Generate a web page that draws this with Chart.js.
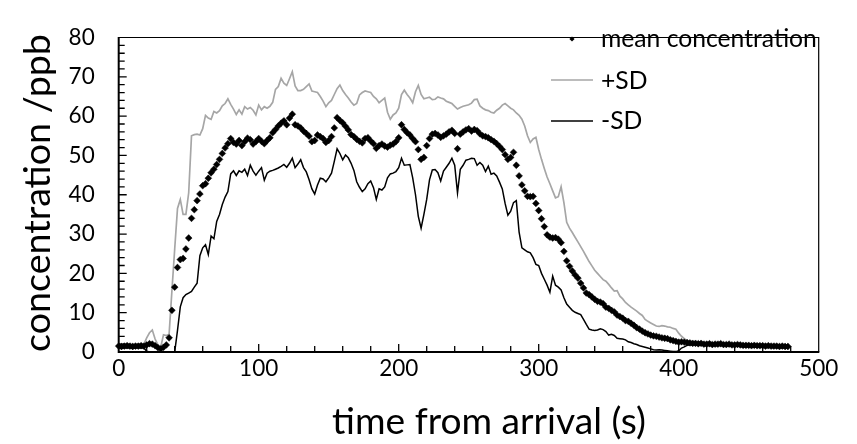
<!DOCTYPE html>
<html>
<head>
<meta charset="utf-8">
<script src="https://cdn.jsdelivr.net/npm/chart.js@4.4.1/dist/chart.umd.min.js"></script>
<style>
html,body{margin:0;padding:0;background:#fff;}
#wrap{width:857px;height:444px;}
</style>
</head>
<body>
<div id="wrap"><canvas id="c" width="857" height="444"></canvas></div>
<script>
// time from arrival (s)
const times = [0,2,4,6,8,10,12,14,16,18,20,22,24,26,28,30,32,34,36,38,
40,42,44,46,48,50,52,54,56,58,60,62,64,66,68,70,72,74,76,78,
80,82,84,86,88,90,92,94,96,98,100,102,104,106,108,110,112,114,116,118,
120,122,124,126,128,130,132,134,136,138,140,142,144,146,148,150,152,154,156,158,
160,162,164,166,168,170,172,174,176,178,180,182,184,186,188,190,192,194,196,198,
200,202,204,206,208,210,212,214,216,218,220,222,224,226,228,230,232,234,236,238,
240,242,244,246,248,250,252,254,256,258,260,262,264,266,268,270,272,274,276,278,
280,282,284,286,288,290,292,294,296,298,300,302,304,306,308,310,312,314,316,318,
320,322,324,326,328,330,332,334,336,338,340,342,344,346,348,350,352,354,356,358,
360,362,364,366,368,370,372,374,376,378,380,382,384,386,388,390,392,394,396,398,
400,402,404,406,408,410,412,414,416,418,420,422,424,426,428,430,432,434,436,438,
440,442,444,446,448,450,452,454,456,458,460,462,464,466,468,470,472,474,476,478];

// mean concentration (ppb)
const meanConc = [1.5,1.4,1.5,1.6,1.5,1.4,1.5,1.5,1.6,1.5,
1.8,2.1,2.0,1.6,1.1,0.8,1.2,1.8,3.6,10.6,
16.5,21.5,23.5,23.8,26.2,29.0,34.0,36.2,38.5,40.2,
42.3,42.8,44.2,45.6,46.5,47.7,49.0,50.5,51.9,53.0,
54.3,53.3,52.9,53.8,52.5,53.5,54.4,54.0,52.9,53.5,
54.3,53.6,53.0,53.8,54.5,55.8,56.6,57.5,58.2,58.8,
57.8,59.5,60.5,57.8,57.5,57.0,56.2,55.6,54.9,53.5,
53.8,55.2,54.8,54.3,53.3,53.8,54.8,57.0,59.6,58.9,
58.3,57.4,56.5,55.3,54.8,54.1,53.6,53.2,54.3,54.5,
53.7,53.0,51.8,52.5,52.9,52.4,52.1,52.6,52.9,53.5,
54.5,57.8,56.6,55.8,55.2,54.3,53.5,51.5,49.0,49.5,
52.5,54.3,55.4,55.6,55.2,54.6,55.0,55.4,56.0,56.4,
55.6,51.7,55.4,56.0,56.5,56.8,56.2,56.6,56.3,55.5,
55.0,54.8,54.5,54.0,53.6,53.0,52.3,51.5,50.2,49.0,
49.5,50.8,47.5,44.8,42.5,41.0,39.6,39.5,39.6,37.8,
36.0,33.9,31.9,29.8,29.2,29.0,29.1,28.7,27.8,25.6,
23.2,21.8,20.6,19.6,18.8,17.5,16.3,15.0,14.6,14.0,
13.4,12.9,12.7,12.3,11.4,11.1,10.6,10.2,9.4,9.0,
8.6,8.0,7.8,7.3,6.8,6.2,5.8,5.3,4.9,4.6,
4.3,4.1,4.0,3.8,3.6,3.5,3.4,3.1,2.9,2.7,
2.5,2.6,2.5,2.4,2.3,2.2,2.2,2.1,2.2,2.0,
2.0,2.1,1.9,2.0,2.0,2.1,1.9,1.9,2.0,1.8,
1.8,1.9,1.8,1.7,1.7,1.7,1.6,1.7,1.6,1.6,
1.6,1.5,1.6,1.5,1.5,1.5,1.4,1.5,1.4,1.4];

// mean + SD (ppb)
const plusSD = [2.0,1.9,2.0,2.1,2.0,1.9,2.0,2.0,2.1,2.0,
3.6,4.9,5.6,3.3,1.8,1.2,4.4,4.2,4.5,15.5,
26.2,36.5,38.8,35.0,35.0,40.5,55.0,55.3,55.4,55.2,
56.8,60.2,59.5,59.2,61.2,60.8,61.4,62.6,63.2,64.4,
63.0,61.8,60.4,61.6,60.5,62.4,61.8,62.2,61.5,60.3,
62.8,61.6,62.4,62.0,62.5,63.5,66.8,67.5,69.6,68.4,
67.8,69.5,71.3,67.7,66.5,66.5,66.8,67.5,68.2,66.4,
66.2,66.0,65.0,63.8,62.4,63.4,64.0,65.5,67.0,67.9,
66.5,65.5,64.6,63.6,62.8,63.2,65.4,66.0,66.4,66.2,
66.0,65.0,64.4,63.4,64.0,64.6,61.0,59.2,60.3,60.8,
62.0,65.5,66.6,65.5,64.6,63.4,66.2,67.8,65.5,64.4,
64.6,64.8,64.2,64.3,64.9,64.6,64.4,63.8,63.5,63.2,
62.5,61.8,62.2,62.5,62.7,62.9,63.3,64.2,64.3,62.6,
62.0,61.6,61.4,61.0,60.8,61.5,62.0,62.8,63.2,62.6,
62.0,61.6,60.8,60.2,59.2,57.5,55.0,53.3,54.2,54.6,
51.5,49.0,46.7,44.5,42.8,41.0,39.2,39.5,42.0,38.0,
33.0,31.5,30.4,29.2,28.0,26.8,25.6,24.3,23.0,21.9,
20.8,20.0,19.2,18.4,18.0,17.2,16.3,15.5,15.6,14.2,
13.5,12.6,12.0,11.4,10.9,10.4,9.8,9.3,8.3,7.8,
7.4,7.0,6.6,6.5,6.7,6.6,6.4,6.3,6.0,5.8,
4.8,4.0,3.4,2.9,2.7,2.6,2.6,2.5,2.6,2.4,
2.4,2.5,2.3,2.4,2.4,2.5,2.3,2.3,2.4,2.2,
2.2,2.3,2.2,2.1,2.1,2.1,2.0,2.1,2.0,2.0,
2.0,1.9,2.0,1.9,1.9,1.9,1.8,1.9,1.8,1.8];

// mean - SD (ppb)
const minusSD = [1.0,0.9,1.0,1.1,1.0,0.9,1.0,1.0,1.1,1.0,
0.2,0,0,0,0,0,0,0,0,0,
0,5.5,11.5,13.8,14.6,15.0,15.4,16.5,17.5,24.5,
26.5,27.3,24.8,29.5,28.8,33.2,35.0,37.5,39.4,40.8,
45.3,46.1,44.9,46.1,45.7,46.5,44.9,47.5,46.0,45.0,
46.0,46.9,43.7,45.5,46.0,46.2,46.5,46.8,47.2,47.7,
47.0,48.0,49.3,46.9,47.8,48.9,46.9,45.8,43.8,41.5,
40.2,42.5,44.2,44.0,43.3,44.3,45.5,48.5,51.7,50.5,
48.9,50.1,49.4,48.0,46.2,43.3,41.9,40.8,41.5,42.8,
43.5,41.8,38.8,41.5,41.2,42.0,44.3,45.3,45.5,45.9,
46.9,49.3,47.5,47.6,47.7,44.3,40.0,34.5,31.5,35.0,
38.8,43.8,46.3,46.4,45.6,43.5,46.0,47.0,48.0,49.3,
47.5,40.5,46.5,47.5,48.8,49.0,49.3,49.2,47.5,48.2,
47.5,45.9,47.3,45.2,45.5,44.8,43.2,41.5,37.8,34.8,
35.8,38.0,38.5,30.5,26.5,26.0,25.5,25.2,24.0,22.3,
22.0,20.0,18.5,17.0,15.2,19.3,17.0,16.5,15.8,13.8,
12.2,11.4,10.6,10.1,9.8,9.5,8.3,7.0,5.8,5.6,
5.5,5.6,5.9,5.7,5.2,4.3,4.5,4.2,3.5,3.4,
3.3,3.1,2.6,2.4,2.1,1.9,1.6,1.4,1.2,1.0,
0.8,0.6,0.5,0.6,0.5,0.4,0.3,0.2,0.1,0.1,
0.3,1.0,1.3,1.7,1.8,1.8,1.8,1.7,1.8,1.6,
1.6,1.7,1.5,1.6,1.6,1.7,1.5,1.5,1.6,1.4,
1.4,1.5,1.4,1.3,1.3,1.3,1.2,1.3,1.2,1.2,
1.2,1.1,1.2,1.1,1.1,1.1,1.0,1.1,1.0,1.0];

const seriesLabels = ['mean concentration', '+SD', '-SD'];
const xTitle = 'time from arrival (s)';
const yTitle = 'concentration /ppb';

const FONT = 'Lato';
function fitSize(text, target) {
  const c = document.createElement('canvas').getContext('2d');
  c.font = '100px ' + FONT;
  return 100 * target / c.measureText(text).width;
}
const tickSize = 22.5;
const legendSize = fitSize(seriesLabels[0], 216);
const xTitleSize = fitSize(xTitle, 314);
const yTitleSize = fitSize(yTitle, 318);

const pts = arr => times.map((t, i) => ({x: t, y: arr[i]}));

const framePlugin = {
  id: 'frame',
  afterDatasetsDraw(chart) {
    const {ctx, chartArea: a, scales} = chart;
    ctx.save();
    ctx.strokeStyle = '#000';
    ctx.lineWidth = 1.2;
    ctx.beginPath();
    ctx.moveTo(a.left, a.top); ctx.lineTo(a.right, a.top); ctx.lineTo(a.right, a.bottom);
    ctx.stroke();
    ctx.lineWidth = 2;
    ctx.beginPath();
    ctx.moveTo(a.left, a.top - 0.6); ctx.lineTo(a.left, a.bottom); ctx.lineTo(a.right + 0.6, a.bottom);
    ctx.stroke();
    ctx.lineWidth = 1.3;
    ctx.beginPath();
    for (let v = 20; v < 500; v += 20) {
      const px = scales.x.getPixelForValue(v);
      const len = v % 100 === 0 ? 8 : 6;
      ctx.moveTo(px, a.bottom); ctx.lineTo(px, a.bottom - len);
    }
    for (let v = 2; v < 80; v += 2) {
      const py = scales.y.getPixelForValue(v);
      const len = v % 10 === 0 ? 8 : 6;
      ctx.moveTo(a.left, py); ctx.lineTo(a.left + len, py);
    }
    ctx.stroke();
    ctx.restore();
  },
  afterDraw(chart) {
    const {ctx} = chart;
    ctx.save();
    ctx.fillStyle = '#000';
    ctx.beginPath();
    const mx = 572, my = 39, r = 2.6;
    ctx.moveTo(mx - r, my); ctx.lineTo(mx, my - r); ctx.lineTo(mx + r, my); ctx.lineTo(mx, my + r);
    ctx.closePath(); ctx.fill();
    ctx.lineWidth = 1.5;
    ctx.strokeStyle = '#a6a6a6';
    ctx.beginPath(); ctx.moveTo(551, 80); ctx.lineTo(593, 80); ctx.stroke();
    ctx.strokeStyle = '#000';
    ctx.beginPath(); ctx.moveTo(551, 121); ctx.lineTo(593, 121); ctx.stroke();
    ctx.font = legendSize + 'px ' + FONT;
    ctx.textAlign = 'left'; ctx.textBaseline = 'alphabetic';
    ctx.fillText(seriesLabels[0], 601, 47);
    ctx.fillText(seriesLabels[1], 601, 88.5);
    ctx.fillText(seriesLabels[2], 601, 129);
    ctx.textAlign = 'center'; ctx.textBaseline = 'middle';
    ctx.font = xTitleSize + 'px ' + FONT;
    ctx.fillText(xTitle, 489, 422);
    ctx.translate(38, 193);
    ctx.rotate(-Math.PI / 2);
    ctx.font = yTitleSize + 'px ' + FONT;
    ctx.fillText(yTitle, 0, 0);
    ctx.restore();
  }
};

new Chart(document.getElementById('c'), {
  type: 'line',
  data: {
    datasets: [
      {label: seriesLabels[0], data: pts(meanConc), showLine: false, pointStyle: 'rectRot',
       pointRadius: 3.4, pointBackgroundColor: '#000', pointBorderColor: '#000', pointBorderWidth: 0.5,
       order: 0, clip: false},
      {label: seriesLabels[1], data: pts(plusSD), borderColor: '#a6a6a6', borderWidth: 1.7,
       pointRadius: 0, tension: 0, order: 1},
      {label: seriesLabels[2], data: pts(minusSD), borderColor: '#000', borderWidth: 1.5,
       pointRadius: 0, tension: 0, order: 2}
    ]
  },
  options: {
    responsive: false, animation: false, devicePixelRatio: 1,
    layout: {padding: {top: 16, right: 38.3, left: 0, bottom: 0}},
    plugins: {legend: {display: false}, tooltip: {enabled: false}},
    scales: {
      x: {type: 'linear', min: 0, max: 500,
          ticks: {stepSize: 100, color: '#000', padding: 3, font: {family: FONT, size: tickSize}},
          grid: {display: false, drawTicks: false}, border: {display: false},
          afterFit(s) { s.height = 92; }},
      y: {min: 0, max: 80,
          ticks: {stepSize: 10, color: '#000', padding: 24, font: {family: FONT, size: tickSize}},
          grid: {display: false, drawTicks: false}, border: {display: false},
          afterFit(s) { s.width = 118.7; }}
    }
  },
  plugins: [framePlugin]
});
</script>
</body>
</html>
